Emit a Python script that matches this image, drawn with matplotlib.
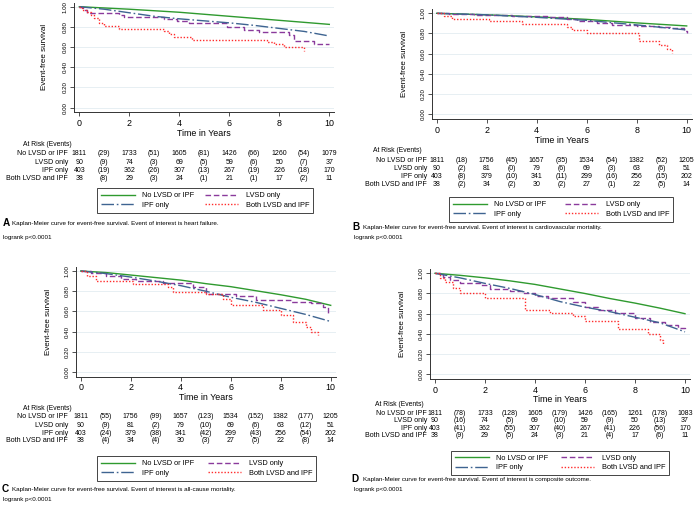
"""
Kaplan-Meier event-free survival for four outcomes (heart failure, CV mortality,
all-cause mortality, composite), split by LVSD / IPF group, with at-risk tables.
"""
import matplotlib
matplotlib.use("Agg")
import matplotlib.pyplot as plt
from matplotlib.transforms import blended_transform_factory

plt.rcParams["font.family"] = ["Liberation Sans", "DejaVu Sans"]

W, H = 696, 507

GROUPS = ["No LVSD or IPF", "LVSD only", "IPF only", "Both LVSD and IPF"]
COLORS = ["#2f9a2f", "#8a3a9c", "#3e6491", "#ff2b2b"]
DASHES = [None, (4, 2), (9, 2, 1.2, 2), (1, 1.3)]
STEPPED = [False, True, False, True]
TABLE_TIMES = [0, 2, 4, 6, 8, 10]
EVENT_TIMES = [1, 3, 5, 7, 9]

# --- A: heart failure -------------------------------------------------------
hf_none_t = [0, 2, 4, 6, 8, 10]
hf_none_s = [1.0, 0.975, 0.945, 0.905, 0.865, 0.825]
hf_lvsd_t = [0, 0.15, 0.3, 1.6, 1.8, 3.4, 3.9, 4.4, 5.9, 6.6, 7.2, 8.4, 8.6, 9.4, 10.0]
hf_lvsd_s = [1.0, 0.97, 0.94, 0.92, 0.895, 0.875, 0.86, 0.84, 0.80, 0.77, 0.745, 0.72, 0.66, 0.635, 0.635]
hf_ipf_t = [0, 1, 2, 3, 4, 5, 6, 7, 8, 9, 10]
hf_ipf_s = [1.0, 0.975, 0.94, 0.905, 0.88, 0.86, 0.84, 0.815, 0.785, 0.755, 0.71]
hf_both_t = [0, 0.1, 0.3, 0.45, 0.6, 0.8, 1.0, 1.6, 3.4, 3.6, 3.8, 4.5, 7.5, 7.8, 8.2, 9.0]
hf_both_s = [1.0, 0.97, 0.95, 0.92, 0.89, 0.84, 0.81, 0.78, 0.76, 0.73, 0.70, 0.675, 0.655, 0.635, 0.60, 0.56]
hf_at_risk = [[1811, 1733, 1605, 1426, 1260, 1079],
              [90, 74, 69, 59, 50, 37],
              [403, 362, 307, 267, 226, 170],
              [38, 29, 24, 21, 17, 11]]
hf_events = [[29, 51, 81, 66, 54],
             [9, 3, 5, 6, 7],
             [19, 26, 13, 19, 18],
             [8, 3, 1, 1, 2]]

# --- B: cardiovascular mortality ------------------------------------------
cv_none_t = [0, 2, 4, 6, 8, 10]
cv_none_s = [1.0, 0.985, 0.965, 0.94, 0.905, 0.875]
cv_lvsd_t = [0, 0.5, 1.5, 3.0, 4.4, 5.2, 5.6, 6.4, 7.0, 8.0, 8.9, 9.4, 9.9, 10.0]
cv_lvsd_s = [1.0, 0.99, 0.98, 0.97, 0.96, 0.945, 0.92, 0.905, 0.885, 0.875, 0.86, 0.85, 0.82, 0.80]
cv_ipf_t = [0, 2, 4, 6, 8, 10]
cv_ipf_s = [1.0, 0.985, 0.96, 0.93, 0.885, 0.835]
cv_both_t = [0, 0.3, 0.6, 2.1, 3.4, 5.2, 5.4, 6.0, 8.1, 8.9, 9.2, 9.4]
cv_both_s = [1.0, 0.97, 0.945, 0.92, 0.89, 0.86, 0.835, 0.80, 0.73, 0.69, 0.65, 0.61]
cv_at_risk = [[1811, 1756, 1657, 1534, 1382, 1205],
              [90, 81, 79, 69, 63, 51],
              [403, 379, 341, 299, 256, 202],
              [38, 34, 30, 27, 22, 14]]
cv_events = [[18, 45, 35, 54, 52],
             [2, 0, 6, 3, 6],
             [8, 10, 11, 16, 15],
             [2, 2, 2, 1, 5]]

# --- C: all-cause mortality -----------------------------------------------
ac_none_t = [0, 1, 2, 3, 4, 5, 6, 7, 8, 9, 10]
ac_none_s = [1.0, 0.985, 0.96, 0.935, 0.91, 0.875, 0.845, 0.805, 0.765, 0.72, 0.66]
ac_lvsd_t = [0, 0.4, 1.0, 1.6, 2.2, 3.3, 4.5, 5.0, 6.2, 7.0, 8.4, 9.2, 9.7, 9.9]
ac_lvsd_s = [1.0, 0.98, 0.95, 0.92, 0.90, 0.88, 0.84, 0.77, 0.75, 0.71, 0.695, 0.68, 0.645, 0.58]
ac_ipf_t = [0, 1, 2, 3, 4, 5, 6, 7, 8, 9, 10]
ac_ipf_s = [1.0, 0.975, 0.94, 0.90, 0.855, 0.80, 0.74, 0.69, 0.63, 0.57, 0.50]
ac_both_t = [0, 0.25, 0.6, 2.1, 3.5, 3.7, 5.0, 5.7, 6.0, 7.3, 8.0, 8.5, 9.0, 9.2, 9.5]
ac_both_s = [1.0, 0.95, 0.90, 0.87, 0.84, 0.79, 0.77, 0.72, 0.66, 0.61, 0.56, 0.50, 0.45, 0.40, 0.37]
ac_at_risk = [[1811, 1756, 1657, 1534, 1382, 1205],
              [90, 81, 79, 69, 63, 51],
              [403, 379, 341, 299, 256, 202],
              [38, 34, 30, 27, 22, 14]]
ac_events = [[55, 99, 123, 152, 177],
             [9, 2, 10, 6, 12],
             [24, 38, 42, 43, 54],
             [4, 4, 3, 5, 8]]

# --- D: composite outcome --------------------------------------------------
co_none_t = [0, 1, 2, 3, 4, 5, 6, 7, 8, 9, 10]
co_none_s = [1.0, 0.98, 0.955, 0.925, 0.89, 0.845, 0.80, 0.75, 0.705, 0.655, 0.60]
co_lvsd_t = [0, 0.3, 0.6, 1.0, 1.8, 2.2, 3.0, 3.5, 4.0, 4.5, 5.5, 6.0, 6.5, 7.2, 8.0, 8.6, 9.2, 9.7, 10.0]
co_lvsd_s = [1.0, 0.96, 0.93, 0.90, 0.88, 0.84, 0.82, 0.80, 0.78, 0.76, 0.72, 0.67, 0.64, 0.61, 0.56, 0.52, 0.49, 0.46, 0.44]
co_ipf_t = [0, 1, 2, 3, 4, 5, 6, 7, 8, 9, 10]
co_ipf_s = [1.0, 0.955, 0.90, 0.85, 0.79, 0.72, 0.665, 0.62, 0.565, 0.51, 0.42]
co_both_t = [0, 0.2, 0.4, 0.7, 1.0, 2.0, 3.6, 4.6, 5.5, 6.0, 7.3, 8.5, 9.0, 9.1]
co_both_s = [1.0, 0.95, 0.91, 0.85, 0.80, 0.76, 0.64, 0.61, 0.575, 0.53, 0.45, 0.40, 0.34, 0.29]
co_at_risk = [[1811, 1733, 1605, 1426, 1261, 1083],
              [90, 74, 69, 59, 50, 37],
              [403, 362, 307, 267, 226, 170],
              [38, 29, 24, 21, 17, 11]]
co_events = [[78, 128, 179, 165, 178],
             [16, 5, 10, 9, 13],
             [41, 55, 40, 41, 56],
             [9, 5, 3, 4, 6]]

CAPTION = "Kaplan-Meier curve for event-free survival. Event of interest is {}."

# layout of each panel, in pixels from the top-left corner
PANELS = [
    dict(letter="A", outcome="heart failure",
         curves=[(hf_none_t, hf_none_s), (hf_lvsd_t, hf_lvsd_s), (hf_ipf_t, hf_ipf_s), (hf_both_t, hf_both_s)],
         at_risk=hf_at_risk, events=hf_events,
         x0=79.3, y1=6.7, ylab_x=45, time_y=133, risk_y=144, rows=[153.3, 162, 170.7, 178.7],
         lab_r=68, risk_x=23, legend=(97, 188, 313, 213), cap_y=223, log_y=237,
         let_x=3, cap_x=12, log_x=3),
    dict(letter="B", outcome="cardiovascular mortality",
         curves=[(cv_none_t, cv_none_s), (cv_lvsd_t, cv_lvsd_s), (cv_ipf_t, cv_ipf_s), (cv_both_t, cv_both_s)],
         at_risk=cv_at_risk, events=cv_events,
         x0=436.7, y1=13.3, ylab_x=405, time_y=140, risk_y=150, rows=[160.7, 168.7, 176.7, 184],
         lab_r=427, risk_x=373, legend=(449, 199, 673, 220), cap_y=227, log_y=238,
         let_x=352, cap_x=363, log_x=354),
    dict(letter="C", outcome="all-cause mortality",
         curves=[(ac_none_t, ac_none_s), (ac_lvsd_t, ac_lvsd_s), (ac_ipf_t, ac_ipf_s), (ac_both_t, ac_both_s)],
         at_risk=ac_at_risk, events=ac_events,
         x0=80.7, y1=271, ylab_x=49, time_y=398, risk_y=408, rows=[417, 425.7, 433.3, 441],
         lab_r=68, risk_x=23, legend=(97, 458, 316, 479), cap_y=489, log_y=499,
         let_x=2, cap_x=12, log_x=3),
    dict(letter="D", outcome="composite outcome",
         curves=[(co_none_t, co_none_s), (co_lvsd_t, co_lvsd_s), (co_ipf_t, co_ipf_s), (co_both_t, co_both_s)],
         at_risk=co_at_risk, events=co_events,
         x0=435, y1=273.3, ylab_x=402, time_y=399, risk_y=405, rows=[413.3, 420.7, 428.3, 435.7],
         lab_r=427, risk_x=375, legend=(451, 451, 669, 475), cap_y=479, log_y=489,
         let_x=351, cap_x=363, log_x=354),
]

PX_PER_YEAR = 25.0
PX_PER_UNIT = 101.0
XLIM = (-0.2, 10.2)
YLIM = (-0.045, 1.04)


def fx(px):
    return px / W


def fy(py):
    return 1 - py / H


def draw_panel(fig, p):
    left = p["x0"] + XLIM[0] * PX_PER_YEAR
    top = p["y1"] - (YLIM[1] - 1) * PX_PER_UNIT
    width = (XLIM[1] - XLIM[0]) * PX_PER_YEAR
    height = (YLIM[1] - YLIM[0]) * PX_PER_UNIT
    ax = fig.add_axes([fx(left), fy(top + height), width / W, height / H])

    handles = []
    for (t, s), color, dash, stepped in zip(p["curves"], COLORS, DASHES, STEPPED):
        line, = ax.plot(t, s, color=color, lw=1.0,
                        drawstyle="steps-post" if stepped else "default")
        if dash is not None:
            line.set_dashes(dash)
        handles.append(line)

    ax.set_xlim(*XLIM)
    ax.set_ylim(*YLIM)
    ax.set_xticks(TABLE_TIMES)
    ax.set_yticks([0, 0.2, 0.4, 0.6, 0.8, 1.0])
    ax.set_yticklabels([f"{v:.2f}" for v in [0, 0.2, 0.4, 0.6, 0.8, 1.0]])
    ax.tick_params(axis="x", labelsize=6.4, length=3, width=0.6, color="#333333", pad=2)
    ax.tick_params(axis="y", labelsize=4.4, length=3, width=0.6, color="#333333",
                   pad=1.5, labelrotation=90)
    for lbl in ax.get_yticklabels():
        lbl.set_va("center")
    for side in ("top", "right"):
        ax.spines[side].set_visible(False)
    for side in ("left", "bottom"):
        ax.spines[side].set_color("#333333")
        ax.spines[side].set_linewidth(0.7)
    ax.yaxis.grid(True, color="#e3ecf1", lw=0.6)
    ax.set_axisbelow(True)

    mid_x = p["x0"] + 5 * PX_PER_YEAR
    fig.text(fx(mid_x), fy(p["time_y"]), "Time in Years", ha="center", va="center", fontsize=6.4)
    fig.text(fx(p["ylab_x"]), fy(p["y1"] + 0.5 * PX_PER_UNIT), "Event-free survival",
             rotation=90, ha="center", va="center", fontsize=5.8)

    # at-risk table: columns follow the time axis
    trans = blended_transform_factory(ax.transData, fig.transFigure)
    fig.text(fx(p["risk_x"]), fy(p["risk_y"]), "At Risk (Events)", ha="left", va="center",
             fontsize=4.9)
    for name, row_y, counts, events in zip(GROUPS, p["rows"], p["at_risk"], p["events"]):
        fig.text(fx(p["lab_r"]), fy(row_y), name, ha="right", va="center", fontsize=5.1)
        for t, n in zip(TABLE_TIMES, counts):
            ax.text(t, fy(row_y), str(n), transform=trans, ha="center", va="center",
                    fontsize=5.0, clip_on=False)
        for t, e in zip(EVENT_TIMES, events):
            ax.text(t, fy(row_y), f"({e})", transform=trans, ha="center", va="center",
                    fontsize=5.0, clip_on=False)

    lx0, ly0, lx1, ly1 = p["legend"]
    leg = fig.legend(handles=[handles[0], handles[2], handles[1], handles[3]],
                     labels=[GROUPS[0], GROUPS[2], GROUPS[1], GROUPS[3]],
                     loc="center", bbox_to_anchor=(fx(lx0), fy(ly1), (lx1 - lx0) / W, (ly1 - ly0) / H),
                     mode="expand", ncol=2, fontsize=5.3, handlelength=4.6, handletextpad=1.0,
                     columnspacing=1.5, labelspacing=0.35, borderpad=0.5, borderaxespad=0,
                     fancybox=False, framealpha=1)
    leg.get_frame().set_edgecolor("#444444")
    leg.get_frame().set_linewidth(0.7)

    fig.text(fx(p["let_x"]), fy(p["cap_y"]), p["letter"], ha="left", va="center",
             fontsize=7.2, fontweight="bold")
    fig.text(fx(p["cap_x"]), fy(p["cap_y"]), CAPTION.format(p["outcome"]), ha="left",
             va="center", fontsize=4.5)
    fig.text(fx(p["log_x"]), fy(p["log_y"]), "logrank p<0.0001", ha="left", va="center",
             fontsize=4.5)


def main():
    fig = plt.figure(figsize=(W / 100, H / 100), dpi=100)
    for panel in PANELS:
        draw_panel(fig, panel)
    fig.savefig("out.png", dpi=100, facecolor="white")
    plt.close(fig)


if __name__ == "__main__":
    main()
